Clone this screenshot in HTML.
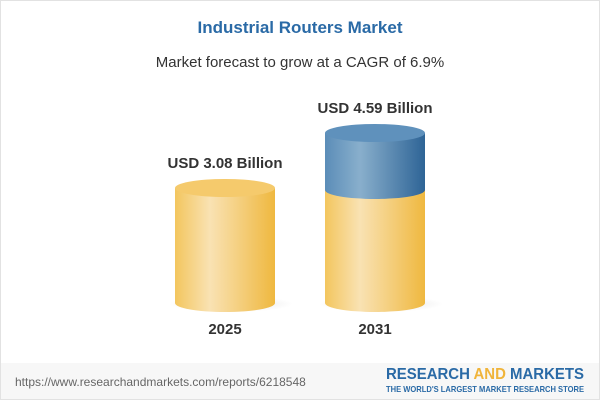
<!DOCTYPE html>
<html><head><style>
body{margin:0;width:600px;height:400px;overflow:hidden;background:#fff;font-family:"Liberation Sans",sans-serif;}
.wrap{position:relative;width:598px;height:398px;border:1px solid #e2e2e2;}
</style></head><body><div class="wrap">
<svg width="598" height="398" viewBox="0 0 598 398" style="position:absolute;left:0;top:0">
<defs>
<linearGradient id="y" x1="0" x2="1"><stop offset="0" stop-color="#f3c65e"/><stop offset="0.35" stop-color="#f9e2b3"/><stop offset="1" stop-color="#efb83f"/></linearGradient>
<linearGradient id="b" x1="0" x2="1"><stop offset="0" stop-color="#5b8db8"/><stop offset="0.35" stop-color="#89afcc"/><stop offset="1" stop-color="#2e6496"/></linearGradient>
<radialGradient id="sh"><stop offset="0" stop-color="#000" stop-opacity="0.12"/><stop offset="1" stop-color="#000" stop-opacity="0"/></radialGradient>
</defs>
<rect x="0" y="362" width="598" height="36" fill="#f7f7f7"/>
<text x="299" y="32" text-anchor="middle" font-size="17" font-weight="bold" fill="#2a6aa6">Industrial Routers Market</text>
<text x="299" y="66" text-anchor="middle" font-size="15" fill="#333">Market forecast to grow at a CAGR of 6.9%</text>
<ellipse cx="230" cy="303" rx="62" ry="8" fill="url(#sh)"/>
<ellipse cx="380" cy="303" rx="62" ry="8" fill="url(#sh)"/>
<path d="M174 187 V302 A50 9 0 0 0 274 302 V187 Z" fill="url(#y)"/>
<ellipse cx="224" cy="187" rx="50" ry="9" fill="#f5ca6c"/>
<path d="M324 189 V302 A50 9 0 0 0 424 302 V189 Z" fill="url(#y)"/>
<path d="M324 132 V189 A50 9 0 0 0 424 189 V132 Z" fill="url(#b)"/>
<ellipse cx="374" cy="132" rx="50" ry="9" fill="#5f91bc"/>
<text x="224" y="167" text-anchor="middle" font-size="15" font-weight="bold" fill="#333">USD 3.08 Billion</text>
<text x="374" y="112" text-anchor="middle" font-size="15" font-weight="bold" fill="#333">USD 4.59 Billion</text>
<text x="224" y="333" text-anchor="middle" font-size="15" font-weight="bold" fill="#333">2025</text>
<text x="374" y="333" text-anchor="middle" font-size="15" font-weight="bold" fill="#333">2031</text>
<text x="14" y="385" font-size="12" fill="#666">https://www.researchandmarkets.com/reports/6218548</text>
<text x="385" y="378" font-size="15.5" font-weight="bold" fill="#2a6aa6" textLength="198" lengthAdjust="spacingAndGlyphs">RESEARCH <tspan fill="#f0b43a">AND</tspan> MARKETS</text>
<text x="385" y="391" font-size="8.5" font-weight="bold" fill="#2a6aa6" textLength="198" lengthAdjust="spacingAndGlyphs">THE WORLD'S LARGEST MARKET RESEARCH STORE</text>
</svg>
</div></body></html>
